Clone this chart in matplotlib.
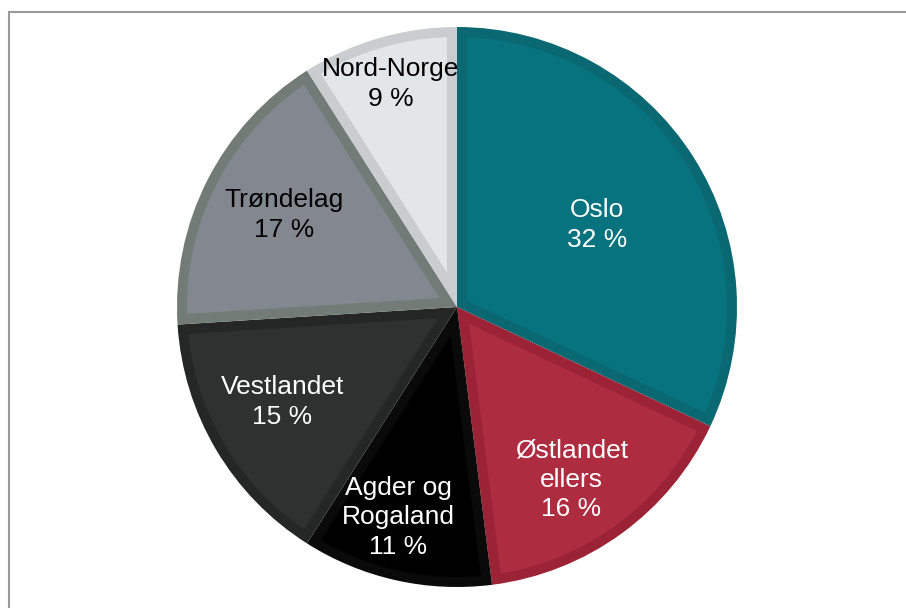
import matplotlib.pyplot as plt
import numpy as np
from matplotlib.patches import Rectangle, Polygon

plt.rcParams['font.family'] = ['Liberation Sans', 'DejaVu Sans']

# Data
regions = ["Oslo", "Østlandet\nellers", "Agder og\nRogaland", "Vestlandet", "Trøndelag", "Nord-Norge"]
shares = [32, 16, 11, 15, 17, 9]

# Styles
fills = ["#06737f", "#ad2c40", "#000000", "#2f3130", "#83878f", "#e3e6e9"]
edges = ["#0a6873", "#9c2336", "#0a0a0a", "#252726", "#737b77", "#cacdd0"]
text_colors = ["white", "white", "white", "white", "black", "black"]
label_r = [0.58, 0.74, 0.78, 0.71, 0.70, 0.83]
label_dang = [-2.0, -2.5, -3.0, -2.0, -1.0, 0.3]

fig = plt.figure(figsize=(9.06, 6.08), dpi=100)
ax = fig.add_axes([0, 0, 1, 1])

cx, cy, R = 457, 301, 280
border = 10  # inner border width in px

# outer wedges drawn in the darker border colour
wedges, _ = ax.pie(shares, colors=edges, startangle=90, counterclock=False,
                   radius=R, center=(cx, cy), wedgeprops=dict(linewidth=0))


def inset_wedge(t1, t2, d):
    # polygon of the wedge shrunk inward by d
    half = np.deg2rad(t2 - t1) / 2
    mid = np.deg2rad(t1) + half
    apex = (cx + d / np.sin(half) * np.cos(mid), cy + d / np.sin(half) * np.sin(mid))
    r2 = R - d
    a = np.arcsin(d / r2)
    th = np.linspace(np.deg2rad(t1) + a, np.deg2rad(t2) - a, 200)
    pts = [apex] + list(zip(cx + r2 * np.cos(th), cy + r2 * np.sin(th)))
    return pts


for w, fc in zip(wedges, fills):
    ax.add_patch(Polygon(inset_wedge(w.theta1, w.theta2, border), closed=True,
                         facecolor=fc, edgecolor='none'))

for w, lab, val, tc, rf, da in zip(wedges, regions, shares, text_colors, label_r, label_dang):
    ang = np.deg2rad((w.theta1 + w.theta2) / 2 + da)
    x = cx + rf * R * np.cos(ang)
    y = cy + rf * R * np.sin(ang)
    ax.text(x, y, f"{lab}\n{val} %", ha='center', va='center', color=tc,
            fontsize=19, linespacing=1.3)

# gray frame (top and left edges visible)
ax.add_patch(Rectangle((8.5, -20), 1000, 616.5, fill=False, edgecolor='#999999',
                       linewidth=1.5, clip_on=False))

ax.set_xlim(0, 906)
ax.set_ylim(0, 608)
ax.set_aspect('auto')
ax.axis('off')

fig.savefig("out.png", dpi=100)
